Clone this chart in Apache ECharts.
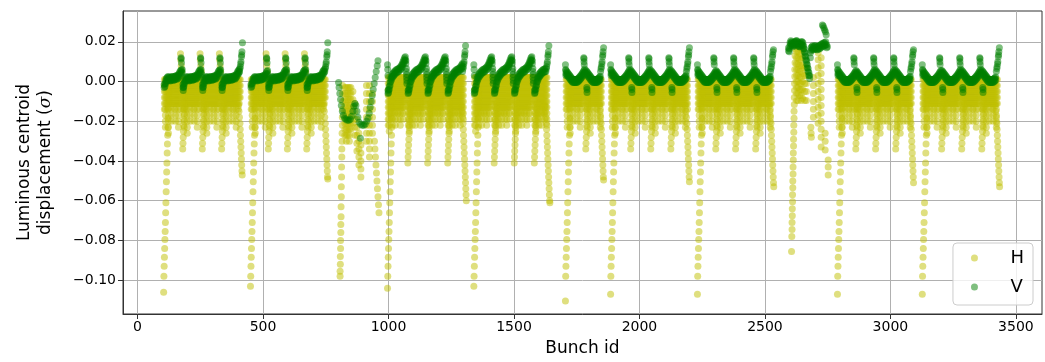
<!DOCTYPE html>
<html>
<head>
<meta charset="utf-8">
<script src="https://cdn.jsdelivr.net/npm/echarts@6.0.0/dist/echarts.min.js"></script>
<style>
  html, body { margin: 0; padding: 0; background: #fff; }
  #chart { width: 1045px; height: 362px; }
</style>
</head>
<body>
<div id="chart"></div>
<script>
// ---- tick labels ----
var xTicks = [0, 500, 1000, 1500, 2000, 2500, 3000, 3500];
var yTicks = [-0.1, -0.08, -0.06, -0.04, -0.02, 0, 0.02];

// ---- train layout (bunch ids) ----
var trainStart = [104, 450, 996, 1340, 1705, 1885, 2231, 2789, 3127];
var trainEnd = [418, 758, 1307, 1639, 1857, 2199, 2534, 3092, 3434];
var trainBounds = [
  [179, 257, 334],
  [520, 596, 673],
  [1076, 1155, 1235],
  [1420, 1500, 1580],
  [1785],
  [1964, 2044, 2124],
  [2303, 2382, 2462],
  [2861, 2940, 3020],
  [3203, 3283, 3363]
];
var trainKind = ['a', 'a', 'b', 'b', 'c', 'c', 'c', 'c', 'c'];
var trainDipH = [-0.106, -0.103, -0.104, -0.103, -0.1105, -0.107, -0.107, -0.107, -0.107];
var trainTailH = [-0.047, -0.049, -0.060, -0.061, -0.0495, -0.0505, -0.053, -0.051, -0.053];
var trainTopV = [0.0195, 0.0195, 0.018, 0.018, 0.017, 0.017, 0.016, 0.016, 0.017];

// ---- H (yellow) shapes, offsets in bunch ids ----
// column at the head of each train: [offset, y]
var startColH = [[0, -0.106], [1, -0.098], [2, -0.093], [3, -0.0885], [4, -0.084], [5, -0.0795],
  [6, -0.0755], [7, -0.071], [8, -0.066], [9, -0.061], [10, -0.0555], [11, -0.0505], [12, -0.0455],
  [13, -0.041], [14, -0.036], [15, -0.0315], [16, -0.027], [17, -0.023], [18, -0.0185],
  [19, -0.0135], [20, -0.0095], [21, -0.006], [22, -0.003]];
// band under each batch: [offset, y, y, ...]
var bandH = [
  [3, 0.001, -0.002, -0.005, -0.008, -0.011, -0.014],
  [7, 0.001, -0.002, -0.005, -0.008, -0.011, -0.014, -0.017, -0.020, -0.023],
  [11, 0.001, -0.002, -0.005, -0.008, -0.011],
  [15, 0.001, -0.002, -0.005, -0.008, -0.011, -0.014],
  [19, 0.001, -0.002, -0.005, -0.008, -0.011, -0.014, -0.017, -0.020, -0.023, -0.026],
  [23, 0.001, -0.002, -0.005, -0.008, -0.011],
  [27, 0.001, -0.002, -0.005, -0.008, -0.011],
  [31, 0.001, -0.002, -0.005, -0.008, -0.011, -0.014, -0.017, -0.020],
  [35, 0.001, -0.002, -0.005, -0.008, -0.011],
  [39, 0.001, -0.002, -0.005, -0.008, -0.011],
  [43, 0.001, -0.002, -0.005, -0.008, -0.011, -0.014],
  [47, 0.001, -0.002, -0.005, -0.008, -0.011, -0.014, -0.017, -0.020],
  [51, 0.001, -0.002, -0.005, -0.008, -0.011],
  [55, 0.001, -0.002, -0.005, -0.008, -0.011],
  [59, 0.001, -0.002, -0.005, -0.008, -0.011, -0.014, -0.017, -0.020, -0.023],
  [63, 0.001, -0.002, -0.005, -0.008, -0.011],
  [67, 0.001, -0.002, -0.005, -0.008, -0.011, -0.014],
  [71, 0.001, -0.002, -0.005, -0.008, -0.011],
  [75, 0.001, -0.002, -0.005, -0.008]
];
var bandHB = [
  [3, 0.002, -0.001, -0.004, -0.007, -0.010, -0.013, -0.016, -0.019, -0.022],
  [7, 0.002, -0.001, -0.004, -0.007, -0.010, -0.013, -0.016, -0.019, -0.022, -0.025],
  [11, 0.002, -0.001, -0.004, -0.007, -0.010, -0.013, -0.016],
  [15, 0.002, -0.001, -0.004, -0.007, -0.010, -0.013, -0.016, -0.019],
  [19, 0.002, -0.001, -0.004, -0.007, -0.010, -0.013, -0.016, -0.019, -0.022],
  [23, 0.002, -0.001, -0.004, -0.007, -0.010, -0.013],
  [27, 0.002, -0.001, -0.004, -0.007, -0.010, -0.013, -0.016],
  [31, 0.002, -0.001, -0.004, -0.007, -0.010, -0.013, -0.016, -0.019, -0.022],
  [35, 0.002, -0.001, -0.004, -0.007, -0.010, -0.013],
  [39, 0.002, -0.001, -0.004, -0.007, -0.010, -0.013, -0.016],
  [43, 0.002, -0.001, -0.004, -0.007, -0.010, -0.013, -0.016, -0.019],
  [47, 0.002, -0.001, -0.004, -0.007, -0.010, -0.013],
  [51, 0.002, -0.001, -0.004, -0.007, -0.010, -0.013, -0.016, -0.019, -0.022],
  [55, 0.002, -0.001, -0.004, -0.007, -0.010, -0.013],
  [59, 0.002, -0.001, -0.004, -0.007, -0.010, -0.013, -0.016],
  [63, 0.002, -0.001, -0.004, -0.007, -0.010, -0.013, -0.016, -0.019],
  [67, 0.002, -0.001, -0.004, -0.007, -0.010],
  [71, 0.002, -0.001, -0.004, -0.007, -0.010, -0.013],
  [75, 0.002, -0.001, -0.004, -0.007]
];
// dip right after each batch boundary
var dipH = [[1, -0.034], [2, -0.031], [3, -0.028], [4, -0.025], [5, -0.022], [6, -0.019],
  [7, -0.016], [8, -0.013], [9, -0.010], [10, -0.007], [11, -0.004]];
var dipHB = [[1, -0.041], [2, -0.038], [3, -0.035], [4, -0.032], [5, -0.029], [6, -0.026],
  [7, -0.023], [8, -0.020], [9, -0.017], [10, -0.014], [11, -0.011]];
// yellow tips above the boundaries (first two trains)
var topsHA = [[-8, 0.014], [-7, 0.011], [-5, 0.008], [-3, 0.005]];
// tail at the end of each train (offset from train end)
var tailH = [[-16, -0.012], [-14, -0.015], [-12, -0.018], [-10, -0.021], [-9, -0.024], [-8, -0.027],
  [-7, -0.030], [-6, -0.033], [-5, -0.036], [-4, -0.039], [-3, -0.042], [-2, -0.045],
  [-1, -0.048], [0, -0.051], [1, -0.054], [2, -0.057], [3, -0.060]];

// ---- V (green) shapes: [offset, y, y] ----
var uV = [[2, 0.004, 0.0055], [5, 0.0035, 0.005], [8, 0.003, 0.0045], [11, 0.0025, 0.004],
  [14, 0.002, 0.0035], [17, 0.0015, 0.003], [20, 0.001, 0.0025], [23, 0.0005, 0.002],
  [26, 0.0, 0.0015], [29, -0.0003, 0.0012], [32, -0.0005, 0.001], [35, -0.0005, 0.001],
  [38, -0.0005, 0.001], [41, -0.0005, 0.001], [44, -0.0005, 0.001], [47, -0.0003, 0.0012],
  [50, 0.0, 0.0015], [53, 0.0003, 0.0018], [56, 0.0008, 0.0023], [59, 0.0012, 0.0027],
  [62, 0.0017, 0.0032], [65, 0.0022, 0.0037], [68, 0.0028, 0.0043], [71, 0.0034, 0.0049],
  [74, 0.004, 0.0055], [77, 0.0048, 0.0063]];
var waveVA = [[2, -0.003, -0.0015], [5, -0.0025, -0.001], [8, -0.001, 0.0005], [11, 0.0, 0.0015],
  [14, 0.0005, 0.002], [17, 0.001, 0.0025], [20, 0.0008, 0.0023], [23, 0.0005, 0.002],
  [26, 0.0003, 0.0018], [29, 0.0005, 0.002], [32, 0.001, 0.0025], [35, 0.001, 0.0025],
  [38, 0.0007, 0.0022], [41, 0.0007, 0.0022], [44, 0.001, 0.0025], [47, 0.0012, 0.0027],
  [50, 0.0015, 0.003], [53, 0.0012, 0.0027], [56, 0.0015, 0.003], [59, 0.002, 0.0035],
  [62, 0.0027, 0.0042], [65, 0.0035, 0.005], [68, 0.004, 0.0055], [71, 0.0045, 0.006],
  [74, 0.0045, 0.006], [77, 0.002, 0.0035]];
var sawVB = [[2, -0.006, -0.0045], [4, -0.0055, -0.004], [7, -0.004, -0.0025], [10, -0.002, -0.0005],
  [13, 0.0, 0.0015], [16, 0.001, 0.0025], [19, 0.002, 0.0035], [22, 0.0025, 0.004],
  [25, 0.003, 0.0045], [28, 0.0035, 0.005], [32, 0.004, 0.0055], [36, 0.0045, 0.006],
  [40, 0.0047, 0.0062], [44, 0.005, 0.0065], [48, 0.0055, 0.007], [52, 0.006, 0.0075],
  [56, 0.0067, 0.0082], [59, 0.0075, 0.009], [62, 0.0085, 0.01], [65, 0.0095, 0.011],
  [68, 0.0105, 0.012], [71, 0.011, 0.0125], [73, 0.009, 0.0105], [75, 0.005, 0.0065],
  [76, 0.002, 0.0035], [77, -0.001, 0.0005]];
var bumpVC = [[-7, 0.012], [-6, 0.0115], [-6, 0.010], [-5, 0.0085], [5, -0.003], [6, -0.004], [6, -0.0055]];
var bumpVA = [[-6, 0.012], [-5, 0.0115], [-4, 0.0095], [3, -0.0045], [4, -0.003]];
var startV = [[0, 0.0085], [1, 0.006], [2, 0.003]];
var endV = [[-12, 0.005], [-10, 0.0065], [-9, 0.0075], [-7, 0.009], [-6, 0.010], [-4, 0.0125], [-3, 0.0135], [-2, 0.015]];

// ---- irregular trains ----
var g3ColsH = [
  [807, -0.098, -0.0955], [808, -0.092, -0.088], [809, -0.084, -0.080], [810, -0.076, -0.072],
  [811, -0.068, -0.063], [812, -0.058, -0.053], [813, -0.048, -0.043], [814, -0.038, -0.034],
  [815, -0.030, -0.026], [816, -0.022, -0.018], [817, -0.014, -0.010, -0.006, -0.002],
  [826, -0.003, -0.006, -0.009, -0.012, -0.015, -0.018, -0.021, -0.024, -0.027],
  [832, -0.003, -0.006, -0.009, -0.012, -0.015, -0.018, -0.021, -0.024, -0.027, -0.030],
  [838, -0.003, -0.006, -0.009, -0.012, -0.015, -0.018, -0.021, -0.024, -0.027],
  [844, -0.003, -0.006, -0.009, -0.012, -0.015, -0.018, -0.021, -0.024, -0.027, -0.030],
  [850, -0.003, -0.006, -0.009, -0.012, -0.015, -0.018, -0.021, -0.024],
  [858, -0.005, -0.009, -0.013, -0.017, -0.021],
  [866, -0.011, -0.015, -0.019, -0.023, -0.027],
  [874, -0.019, -0.023, -0.027, -0.031, -0.035],
  [882, -0.026, -0.030, -0.034, -0.038, -0.042],
  [890, -0.032, -0.036, -0.040, -0.044, -0.048],
  [912, -0.002, -0.006, -0.010, -0.014, -0.018, -0.022, -0.026, -0.030],
  [924, -0.002, -0.006, -0.010, -0.014, -0.018, -0.022, -0.026, -0.030, -0.034, -0.038],
  [936, -0.006, -0.010, -0.014, -0.018, -0.022, -0.026],
  [944, -0.030], [946, -0.034], [948, -0.038], [950, -0.042], [952, -0.046], [954, -0.050],
  [956, -0.054], [958, -0.058], [960, -0.062], [962, -0.066]
];
var g3V = [[801, -0.0005], [803, -0.003], [806, -0.006], [809, -0.009], [812, -0.012], [816, -0.015],
  [820, -0.017], [825, -0.0185], [830, -0.019], [836, -0.0195], [842, -0.0195], [848, -0.019],
  [853, -0.0175], [858, -0.015], [862, -0.0125], [866, -0.011], [870, -0.012], [874, -0.015],
  [878, -0.018], [883, -0.0205], [889, -0.0215], [895, -0.022], [901, -0.022], [907, -0.0215],
  [913, -0.02], [918, -0.0185], [923, -0.016], [927, -0.013], [931, -0.01], [935, -0.007],
  [939, -0.004], [943, -0.001], [947, 0.002], [951, 0.005], [955, 0.008], [958, 0.0105],
  [888, -0.0285]];
var g9ColsH = [
  [2606, -0.0855], [2607, -0.078], [2608, -0.0745, -0.071], [2609, -0.0675, -0.064],
  [2610, -0.0605, -0.057], [2611, -0.0535, -0.05], [2612, -0.0465, -0.043], [2613, -0.0395, -0.036],
  [2614, -0.0325, -0.029], [2615, -0.0255, -0.022], [2616, -0.0185, -0.015], [2617, -0.0115, -0.008],
  [2618, -0.0045, -0.001], [2619, 0.0025, 0.006], [2620, 0.0095, 0.013], [2621, 0.0165, 0.019],
  [2626, 0.018, 0.015, 0.012, 0.009, 0.006, 0.003, 0.0, -0.003, -0.006, -0.0095],
  [2632, 0.018, 0.015, 0.012, 0.009, 0.006, 0.003, 0.0, -0.003, -0.006, -0.0095],
  [2638, 0.017, 0.014, 0.011, 0.008, 0.005, 0.002, -0.001, -0.004, -0.007],
  [2644, 0.017, 0.014, 0.011, 0.008, 0.005, 0.002, -0.001, -0.004, -0.007, -0.0095],
  [2650, 0.016, 0.012, 0.008, 0.004, 0.0, -0.004, -0.0085],
  [2658, 0.007, 0.003, -0.001, -0.005, -0.0095],
  [2665, 0.007, 0.003, -0.001, -0.005, -0.0095],
  [2683, -0.023], [2684, -0.026], [2685, -0.028],
  [2693, 0.002, -0.002, -0.006, -0.010, -0.014, -0.018],
  [2712, 0.0145, 0.011, 0.007, 0.003, -0.001, -0.005, -0.009, -0.013, -0.017, -0.021],
  [2724, 0.012, 0.008, 0.004, 0.0, -0.004, -0.008, -0.012, -0.016, -0.020, -0.024, -0.028, -0.033],
  [2740, -0.026, -0.030, -0.0345],
  [2752, -0.0395, -0.043, -0.047]
];
var g9ColsV = [[2594, 0.0155, 0.017], [2597, 0.015, 0.0165], [2600, 0.018, 0.0195], [2603, 0.019, 0.0205],
  [2606, 0.0185, 0.02], [2609, 0.018, 0.0195], [2612, 0.0175, 0.019], [2615, 0.018, 0.0195],
  [2618, 0.0185, 0.02], [2621, 0.0185, 0.02], [2624, 0.019, 0.0205], [2627, 0.019, 0.0205],
  [2630, 0.0185, 0.02], [2633, 0.018, 0.0195], [2636, 0.0175, 0.019], [2639, 0.0175, 0.019],
  [2642, 0.018, 0.0195], [2645, 0.0185, 0.02], [2648, 0.0185, 0.02], [2651, 0.018, 0.0195],
  [2654, 0.0165, 0.018], [2657, 0.015, 0.0165], [2660, 0.013, 0.0145], [2663, 0.011, 0.0125],
  [2666, 0.009, 0.0105], [2669, 0.007, 0.0085], [2672, 0.005, 0.0065], [2675, 0.003, 0.0045],
  [2678, 0.0015, 0.003], [2681, 0.012, 0.0145], [2684, 0.0155, 0.017], [2687, 0.016, 0.0175],
  [2690, 0.0165, 0.018], [2694, 0.016, 0.0175], [2698, 0.0165, 0.018], [2702, 0.0165, 0.018],
  [2706, 0.016, 0.0175], [2710, 0.016, 0.0175], [2714, 0.0165, 0.018], [2718, 0.0165, 0.018],
  [2722, 0.017, 0.0185], [2726, 0.0175, 0.019], [2730, 0.0175, 0.019], [2734, 0.018, 0.0195],
  [2738, 0.018, 0.0195], [2742, 0.0185, 0.02], [2746, 0.017, 0.0185], [2749, 0.0175],
  [2729, 0.0285], [2732, 0.028], [2735, 0.027], [2738, 0.026], [2741, 0.025], [2744, 0.0235]];

// ---- build point lists ----
var hPts = [];
var vPts = [];

function addCols(cols, base, hi, out) {
  cols.forEach(function (c) {
    var x = base + c[0];
    if (x > hi) return;
    for (var k = 1; k < c.length; k++) out.push([x, c[k]]);
  });
}
function addPts(pts, base, hi, out) {
  pts.forEach(function (p) {
    var x = base + p[0];
    if (x > hi) return;
    out.push([x, p[1]]);
  });
}

trainStart.forEach(function (s, i) {
  var kind = trainKind[i];
  var end = trainEnd[i];
  var edges = [s].concat(trainBounds[i]);
  var band = kind === 'b' ? bandHB : bandH;
  var dip = kind === 'b' ? dipHB : dipH;
  var line = kind === 'a' ? waveVA : (kind === 'b' ? sawVB : uV);

  edges.forEach(function (b0, j) {
    var last = j === edges.length - 1;
    var b1 = last ? end : edges[j + 1];
    addCols(band, b0, last ? end - 6 : b1 - 2, hPts);
    addCols(line, b0, last ? end - 13 : b1 - 1, vPts);
    if (j > 0) {
      addPts(dip, b0, b1, hPts);
      if (kind === 'a') {
        addPts(topsHA, b0, b1, hPts);
        addPts(bumpVA, b0, b1, vPts);
      } else if (kind === 'c') {
        addPts(bumpVC, b0, b1, vPts);
      }
    }
  });

  startColH.forEach(function (p, k) {
    hPts.push([s + p[0], k === 0 ? trainDipH[i] : p[1]]);
  });
  var lastX = end;
  tailH.forEach(function (p) {
    if (p[1] > trainTailH[i]) { hPts.push([end + p[0], p[1]]); lastX = end + p[0] + 1; }
  });
  hPts.push([lastX, trainTailH[i]]);

  if (kind !== 'a') addPts(startV, s, end, vPts);
  addPts(endV, end, end, vPts);
  vPts.push([end, trainTopV[i]]);
});

addCols(g3ColsH, 0, Infinity, hPts);
addCols(g9ColsH, 0, Infinity, hPts);
g3V.forEach(function (p) { vPts.push(p); });
addCols(g9ColsV, 0, Infinity, vPts);

// ---- chart ----
var ink = '#000000';
var spine = '#333333';
var gridLine = '#b0b0b0';

var chart = echarts.init(document.getElementById('chart'), null, { renderer: 'canvas' });
chart.setOption({
  animation: false,
  textStyle: { fontFamily: 'DejaVu Sans' },
  grid: {
    left: 123, right: 3, top: 11, bottom: 47,
    show: true, borderColor: spine, borderWidth: 1, backgroundColor: 'transparent'
  },
  legend: {
    orient: 'vertical',
    right: 12,
    top: 243,
    data: ['H', 'V'],
    icon: 'circle',
    itemWidth: 20,
    itemHeight: 7,
    itemGap: 9,
    textStyle: { fontSize: 18, color: ink, lineHeight: 20, padding: [0, 0, 0, 21] },
    backgroundColor: 'rgba(255,255,255,0.8)',
    borderColor: '#cccccc',
    borderWidth: 1,
    borderRadius: 4,
    padding: [5, 9, 8, 18]
  },
  xAxis: {
    type: 'value',
    min: -58,
    max: 3604,
    name: 'Bunch id',
    nameLocation: 'middle',
    nameGap: 26,
    nameTextStyle: { fontSize: 17, color: ink },
    axisLine: { show: true, onZero: false, lineStyle: { color: spine, width: 1 } },
    axisTick: { show: true, customValues: xTicks, length: 5, lineStyle: { color: spine } },
    axisLabel: {
      customValues: xTicks, fontSize: 14, color: ink, margin: 6,
      formatter: function (v) { return String(Math.round(v)); }
    },
    splitLine: { show: true, lineStyle: { color: gridLine, width: 1 } }
  },
  yAxis: {
    type: 'value',
    min: -0.117,
    max: 0.0355,
    name: 'Luminous centroid\ndisplacement ({i|σ})',
    nameLocation: 'middle',
    nameGap: 67,
    nameTextStyle: {
      fontSize: 17, color: ink, lineHeight: 21,
      rich: { i: { fontStyle: 'italic', fontSize: 17, fontFamily: 'DejaVu Serif' } }
    },
    axisLine: { show: true, onZero: false, lineStyle: { color: spine, width: 1 } },
    axisTick: { show: true, customValues: yTicks, length: 5, lineStyle: { color: spine } },
    axisLabel: {
      customValues: yTicks, fontSize: 14, color: ink, margin: 7,
      formatter: function (v) {
        var s = Math.abs(v).toFixed(2);
        return (v < -1e-9 ? '\u2212' : '') + s;
      }
    },
    splitLine: { show: true, lineStyle: { color: gridLine, width: 1 } }
  },
  series: [
    {
      name: 'H',
      type: 'scatter',
      data: hPts,
      symbol: 'circle',
      symbolSize: 7,
      large: false,
      progressive: 0,
      itemStyle: { color: 'rgba(191,191,0,0.5)', opacity: 1 }
    },
    {
      name: 'V',
      type: 'scatter',
      data: vPts,
      symbol: 'circle',
      symbolSize: 7,
      large: false,
      progressive: 0,
      itemStyle: { color: 'rgba(0,128,0,0.5)', opacity: 1 }
    }
  ]
});
window.addEventListener('resize', function () { chart.resize(); });
</script>
</body>
</html>
